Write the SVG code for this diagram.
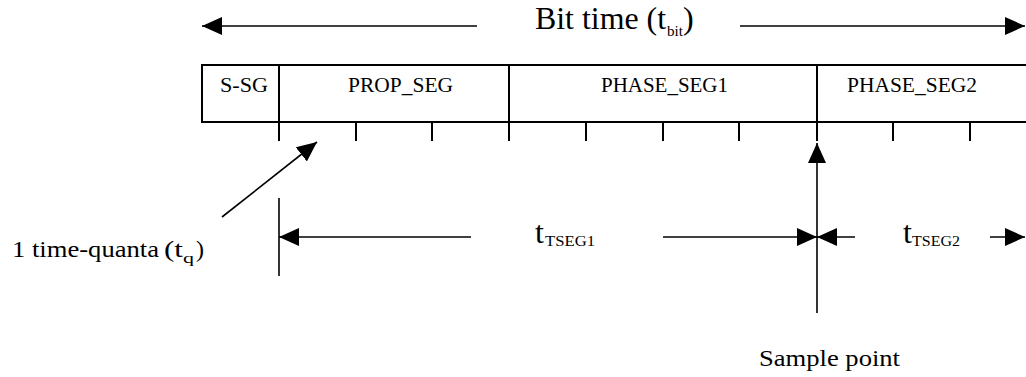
<svg xmlns="http://www.w3.org/2000/svg" width="1026" height="377" viewBox="0 0 1026 377">
<style>
text{font-family:"Liberation Serif","Times New Roman",serif;fill:#000}
.lbl{font-size:20px}
.big{font-size:32px}
.mid{font-size:24px}
.sub{font-size:15px}
.ln{stroke:#000;stroke-width:1.6;fill:none}
.bx{stroke:#000;stroke-width:2;fill:none}
</style>
<defs>
<marker id="ah" markerUnits="userSpaceOnUse" markerWidth="22" markerHeight="22" refX="20" refY="10" orient="auto">
<path d="M0,1 L20,10 L0,19 Z" fill="#000"/>
</marker>
</defs>
<rect width="1026" height="377" fill="#fff"/>

<g id="bit-time">
<text class="big" x="535" y="29" textLength="131" lengthAdjust="spacingAndGlyphs">Bit time (t</text>
<text class="sub" x="667" y="36" font-size="13" textLength="16" lengthAdjust="spacingAndGlyphs">bit</text>
<text class="big" x="683" y="29">)</text>
</g>

<g id="segments">
<g id="seg-ssg"><text class="lbl" x="220" y="92" textLength="48" lengthAdjust="spacingAndGlyphs">S-SG</text></g>
<g id="seg-prop"><text class="lbl" x="348" y="92" textLength="105" lengthAdjust="spacingAndGlyphs">PROP_SEG</text></g>
<g id="seg-phase1"><text class="lbl" x="601" y="92" textLength="127" lengthAdjust="spacingAndGlyphs">PHASE_SEG1</text></g>
<g id="seg-phase2"><text class="lbl" x="847" y="92" textLength="130" lengthAdjust="spacingAndGlyphs">PHASE_SEG2</text></g>
<path class="bx" d="M1026,65 H202 V122 H1026 M279,65 V122 M509,65 V122 M817,65 V122"/>
<path class="bx" d="M279,122 V141 M356,122 V141 M432,122 V141 M509,122 V141 M586,122 V141 M663,122 V141 M739,122 V141 M817,122 V141 M893,122 V141 M970,122 V141"/>
</g>

<g id="tq-label">
<text class="mid" x="12" y="257" textLength="147" lengthAdjust="spacingAndGlyphs">1 time-quanta</text>
<text class="mid" x="164" y="257" textLength="19" lengthAdjust="spacingAndGlyphs">(t</text>
<text class="sub" x="183" y="263" font-size="16" textLength="11" lengthAdjust="spacingAndGlyphs">q</text>
<text class="mid" x="196" y="257">)</text>
</g>

<g id="tseg1">
<text class="big" x="535" y="243">t</text>
<text class="sub" x="545" y="246" font-size="16" textLength="50" lengthAdjust="spacingAndGlyphs">TSEG1</text>
</g>
<g id="tseg2">
<text class="big" x="903" y="243">t</text>
<text class="sub" x="912" y="246" font-size="16" textLength="48" lengthAdjust="spacingAndGlyphs">TSEG2</text>
</g>

<g id="sample-point">
<text class="mid" x="759" y="366" textLength="141" lengthAdjust="spacingAndGlyphs">Sample point</text>
</g>

<g id="connectors">
<line class="ln" x1="477" y1="26" x2="202" y2="26" marker-end="url(#ah)"/>
<line class="ln" x1="740" y1="26" x2="1025" y2="26" marker-end="url(#ah)"/>
<line class="ln" x1="222" y1="217" x2="317" y2="142" marker-end="url(#ah)"/>
<line class="ln" x1="279" y1="198" x2="279" y2="276"/>
<line class="ln" x1="471" y1="237" x2="279" y2="237" marker-end="url(#ah)"/>
<line class="ln" x1="663" y1="237" x2="817" y2="237" marker-end="url(#ah)"/>
<line class="ln" x1="855" y1="237" x2="817" y2="237" marker-end="url(#ah)"/>
<line class="ln" x1="990" y1="237" x2="1025" y2="237" marker-end="url(#ah)"/>
<line class="ln" x1="817" y1="313" x2="817" y2="143" marker-end="url(#ah)"/>
</g>
</svg>
